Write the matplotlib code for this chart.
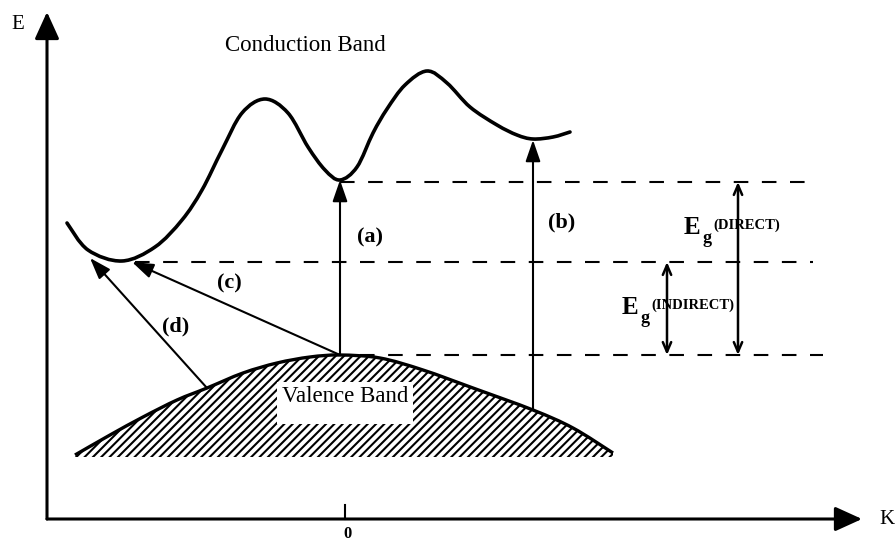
import numpy as np
import matplotlib
matplotlib.use("Agg")
import matplotlib.pyplot as plt
from matplotlib.path import Path
from matplotlib.patches import PathPatch, FancyArrowPatch, Rectangle

# ---------------- data (k: wave vector, E: energy, arbitrary units) -------------
cond_k = [-2.78, -2.57, -2.23, -1.90, -1.63, -1.43, -1.23, -1.03, -0.80, -0.57,
          -0.37, -0.20, -0.05, 0.12, 0.28, 0.42, 0.60, 0.82, 1.02, 1.25,
          1.52, 1.72, 1.88, 2.08, 2.25]
cond_E = [2.96, 2.69, 2.58, 2.72, 2.99, 3.29, 3.69, 4.06, 4.20, 4.06,
          3.72, 3.49, 3.39, 3.52, 3.86, 4.10, 4.34, 4.48, 4.36, 4.12,
          3.94, 3.84, 3.80, 3.82, 3.87]

val_k = [-2.70, -2.35, -2.02, -1.68, -1.38, -1.02, -0.68, -0.35, -0.05,
         0.35, 0.78, 1.28, 1.88, 2.28, 2.68]
val_E = [0.64, 0.84, 1.02, 1.19, 1.31, 1.46, 1.56, 1.62, 1.64,
         1.61, 1.49, 1.31, 1.09, 0.91, 0.66]
val_base = 0.62

# energy levels (dashed reference lines)
level_names = ["direct", "indirect", "valence_top"]
level_E = [3.37, 2.57, 1.64]
level_k0 = [-0.05, -2.10, 0.15]
level_k1 = [4.62, 4.68, 4.78]

# transitions
trans_labels = ["(a)", "(b)", "(c)", "(d)"]
trans_k0 = [-0.05, 1.88, -0.05, -1.38]
trans_E0 = [1.64, 1.09, 1.64, 1.31]
trans_k1 = [-0.05, 1.88, -2.13, -2.55]
trans_E1 = [3.39, 3.79, 2.57, 2.61]
trans_lab_k = [0.25, 2.17, -1.16, -1.69]
trans_lab_E = [2.82, 2.97, 2.36, 1.93]

# band gaps
gap_k = [3.93, 3.22]
gap_E0 = [1.64, 1.64]
gap_E1 = [3.37, 2.57]
gap_sub = ["(DIRECT)", "(INDIRECT)"]
gap_lab_k = [3.47, 2.85]
gap_lab_E = [2.91, 2.11]

axis_k0, axis_k1 = -2.98, 5.17
axis_E1 = 5.07
tick_k = [0.0]
tick_labels = ["0"]

# ---------------------------------------------------------------------------
plt.rcParams['font.family'] = ['Liberation Serif', 'DejaVu Serif']
plt.rcParams['hatch.linewidth'] = 1.5

fig = plt.figure(figsize=(8.96, 5.42), dpi=100)
ax = fig.add_axes([0, 0, 1, 1])
ax.set_xlim(-3.45, 5.51)
ax.set_ylim(-0.23, 5.19)
ax.axis('off')


def smooth_vertices(xs, ys):
    pts = np.column_stack([xs, ys]).astype(float)
    verts = [pts[0]]
    codes = [Path.MOVETO]
    n = len(pts)
    for i in range(n - 1):
        p0 = pts[i - 1] if i > 0 else pts[i]
        p1 = pts[i]
        p2 = pts[i + 1]
        p3 = pts[i + 2] if i + 2 < n else pts[i + 1]
        c1 = p1 + (p2 - p0) / 6.0
        c2 = p2 - (p3 - p1) / 6.0
        verts += [c1, c2, p2]
        codes += [Path.CURVE4] * 3
    return verts, codes


# valence band hatched area
v, c = smooth_vertices(val_k, val_E)
v2 = list(v) + [np.array([val_k[-1], val_base]), np.array([val_k[0], val_base]),
                np.array([val_k[0], val_E[0]])]
c2 = list(c) + [Path.LINETO, Path.LINETO, Path.CLOSEPOLY]
ax.add_patch(PathPatch(Path(v2, c2), facecolor='white', edgecolor='black',
                       linewidth=0, hatch='////', zorder=1))
ax.add_patch(PathPatch(Path(v, c), facecolor='none', edgecolor='black',
                       linewidth=2.4, zorder=3))
# white area behind label
ax.add_patch(Rectangle((-0.68, 0.95), 1.36, 0.42, facecolor='white',
                       edgecolor='none', zorder=2))
ax.text(0.0, 1.23, "Valence Band", ha='center', va='center', fontsize=16.5,
        zorder=4)

# conduction band
v, c = smooth_vertices(cond_k, cond_E)
ax.add_patch(PathPatch(Path(v, c), facecolor='none', edgecolor='black',
                       linewidth=2.6, capstyle='round', zorder=3))
ax.text(-0.40, 4.74, "Conduction Band", ha='center', va='center', fontsize=16.5)

# dashed levels
for E, k0, k1 in zip(level_E, level_k0, level_k1):
    ax.plot([k0, k1], [E, E], color='black', lw=1.5, ls=(0, (7, 6.5)), zorder=2)

# transitions
for k0, E0, k1, E1, lab, lk, lE in zip(trans_k0, trans_E0, trans_k1, trans_E1,
                                       trans_labels, trans_lab_k, trans_lab_E):
    ax.add_patch(FancyArrowPatch((k0, E0), (k1, E1),
                                 arrowstyle='-|>,head_length=1.3,head_width=0.45',
                                 mutation_scale=10, lw=1.5, color='black',
                                 shrinkA=0, shrinkB=0, zorder=4))
    ax.text(lk, lE, lab, ha='center', va='center', fontsize=16, fontweight='bold')

# band gap arrows and labels
for k, E0, E1, sub, lk, lE in zip(gap_k, gap_E0, gap_E1, gap_sub, gap_lab_k,
                                  gap_lab_E):
    ax.add_patch(FancyArrowPatch((k, E0), (k, E1),
                                 arrowstyle='<->,head_length=0.7,head_width=0.3',
                                 mutation_scale=10, lw=1.8, color='black',
                                 shrinkA=0, shrinkB=0, zorder=4))
    ax.text(lk, lE, "E", ha='center', va='center', fontsize=18,
            fontweight='bold', zorder=5)
    ax.text(lk + 0.15, lE - 0.10, "g", ha='center', va='center', fontsize=13,
            fontweight='bold', zorder=5)
    ax.text(lk + 0.21, lE + 0.03, sub, ha='left', va='center', fontsize=10.5,
            fontweight='bold', zorder=5)

# axes with arrows
ax.add_patch(FancyArrowPatch((axis_k0, 0), (axis_k1, 0),
                             arrowstyle='-|>,head_length=1.65,head_width=0.75',
                             mutation_scale=10, lw=2.2, color='black',
                             shrinkA=0, shrinkB=0, zorder=4))
ax.add_patch(FancyArrowPatch((axis_k0, 0), (axis_k0, axis_E1),
                             arrowstyle='-|>,head_length=1.65,head_width=0.75',
                             mutation_scale=10, lw=2.2, color='black',
                             shrinkA=0, shrinkB=0, zorder=4))
ax.text(-3.27, 4.95, "E", ha='center', va='center', fontsize=15)
ax.text(5.42, 0.0, "K", ha='center', va='center', fontsize=15)
for tk, tl in zip(tick_k, tick_labels):
    ax.plot([tk, tk], [0, 0.14], color='black', lw=1.5)
    ax.text(tk + 0.02, -0.15, tl, ha='center', va='center', fontsize=12,
            fontweight='bold')

fig.savefig("out.png", dpi=100)
